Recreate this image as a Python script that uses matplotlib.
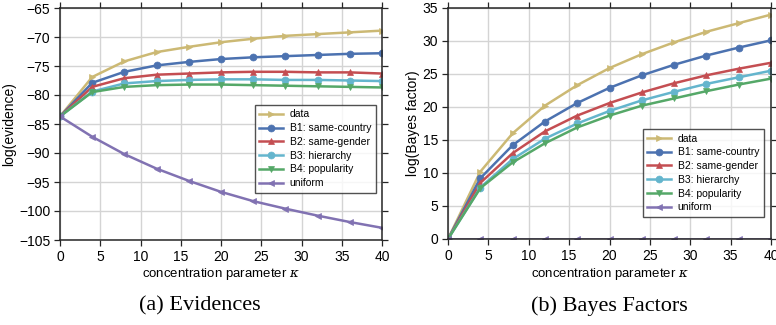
import numpy as np
import matplotlib
matplotlib.use("Agg")
import matplotlib.pyplot as plt

# concentration parameter values (marker positions)
kappa = [0, 4, 8, 12, 16, 20, 24, 28, 32, 36, 40]

labels = ["data", "B1: same-country", "B2: same-gender", "B3: hierarchy",
          "B4: popularity", "uniform"]
colors = ["#CCB974", "#4C72B0", "#C44E52", "#64B5CD", "#55A868", "#8172B2"]
markers = [">", "o", "^", "o", "v", "<"]

# (a) log evidence
ev_data = [-83.7, -76.9, -74.2, -72.6, -71.7, -70.9, -70.3, -69.8, -69.5, -69.2, -68.9]
ev_b1 = [-83.7, -77.9, -76.0, -74.9, -74.3, -73.8, -73.5, -73.3, -73.1, -72.9, -72.8]
ev_b2 = [-83.7, -78.6, -77.1, -76.5, -76.3, -76.1, -76.0, -76.0, -76.1, -76.1, -76.3]
ev_b3 = [-83.7, -79.4, -78.0, -77.6, -77.4, -77.3, -77.3, -77.4, -77.4, -77.5, -77.6]
ev_b4 = [-83.7, -79.5, -78.6, -78.3, -78.2, -78.2, -78.3, -78.4, -78.5, -78.6, -78.7]
ev_uniform = [-83.7, -87.2, -90.2, -92.7, -94.8, -96.7, -98.3, -99.6, -100.8, -101.9, -102.9]

# (b) log Bayes factor vs uniform
bf_data = [0, 10.2, 16.0, 20.2, 23.3, 25.9, 28.0, 29.8, 31.4, 32.7, 34.0]
bf_b1 = [0, 9.2, 14.2, 17.8, 20.6, 22.9, 24.8, 26.4, 27.8, 29.0, 30.1]
bf_b2 = [0, 8.5, 13.0, 16.3, 18.7, 20.6, 22.2, 23.6, 24.8, 25.8, 26.7]
bf_b3 = [0, 7.8, 12.1, 15.2, 17.5, 19.4, 21.0, 22.3, 23.5, 24.5, 25.5]
bf_b4 = [0, 7.7, 11.6, 14.5, 16.9, 18.7, 20.2, 21.3, 22.4, 23.4, 24.3]
bf_uniform = [0, 0, 0, 0, 0, 0, 0, 0, 0, 0, 0]

plt.rcParams["font.family"] = ["Liberation Sans", "DejaVu Sans"]
plt.rcParams["mathtext.fontset"] = "dejavuserif"

fig = plt.figure(figsize=(7.76, 3.25), dpi=100)
ax1 = fig.add_axes([60 / 776, 85 / 325, 322 / 776, 232 / 325])
ax2 = fig.add_axes([448 / 776, 86 / 325, 323 / 776, 231 / 325])


def style(ax):
    ax.grid(True, color="#d4d4d4", linewidth=1)
    ax.set_axisbelow(True)
    for s in ax.spines.values():
        s.set_color("#262626")
        s.set_linewidth(1.1)
    ax.tick_params(direction="out", length=4, width=0.9, color="#262626",
                   labelsize=10, top=True, right=True, pad=3)
    ax.set_xlim(0, 40)
    ax.set_xticks(range(0, 41, 5))
    ax.set_xlabel(r"concentration parameter $\kappa$", fontsize=9.5, labelpad=2)


series_a = [ev_data, ev_b1, ev_b2, ev_b3, ev_b4, ev_uniform]
series_b = [bf_data, bf_b1, bf_b2, bf_b3, bf_b4, bf_uniform]
# legend anchor (lower right corner of legend, axes coords)
anchors = [(0.981, 0.203), (0.978, 0.095)]

for ax, series, anchor in [(ax1, series_a, anchors[0]), (ax2, series_b, anchors[1])]:
    for y, lab, c, m in zip(series, labels, colors, markers):
        ax.plot(kappa, y, color=c, marker=m, markersize=5, linewidth=1.8,
                markeredgewidth=0.5, markeredgecolor=c, label=lab)
    style(ax)
    leg = ax.legend(loc="lower right", bbox_to_anchor=anchor, fontsize=7.5,
                    frameon=True, fancybox=False, borderpad=0.45,
                    handlelength=2.3, handletextpad=0.6, labelspacing=0.36,
                    borderaxespad=0, numpoints=1)
    leg.get_frame().set_edgecolor("#262626")
    leg.get_frame().set_linewidth(1.0)

ax1.set_ylim(-105, -65)
ax1.set_yticks(range(-105, -64, 5))
ax1.set_ylabel("log(evidence)", fontsize=10, labelpad=2)
ax2.set_ylim(0, 35)
ax2.set_yticks(range(0, 36, 5))
ax2.set_ylabel("log(Bayes factor)", fontsize=10, labelpad=2)

fig.text(200 / 776, 1 - 306 / 325, "(a) Evidences", ha="center", va="center",
         fontsize=16, family="Liberation Serif")
fig.text(609 / 776, 1 - 306 / 325, "(b) Bayes Factors", ha="center", va="center",
         fontsize=16, family="Liberation Serif")

fig.savefig("out.png", dpi=100)
